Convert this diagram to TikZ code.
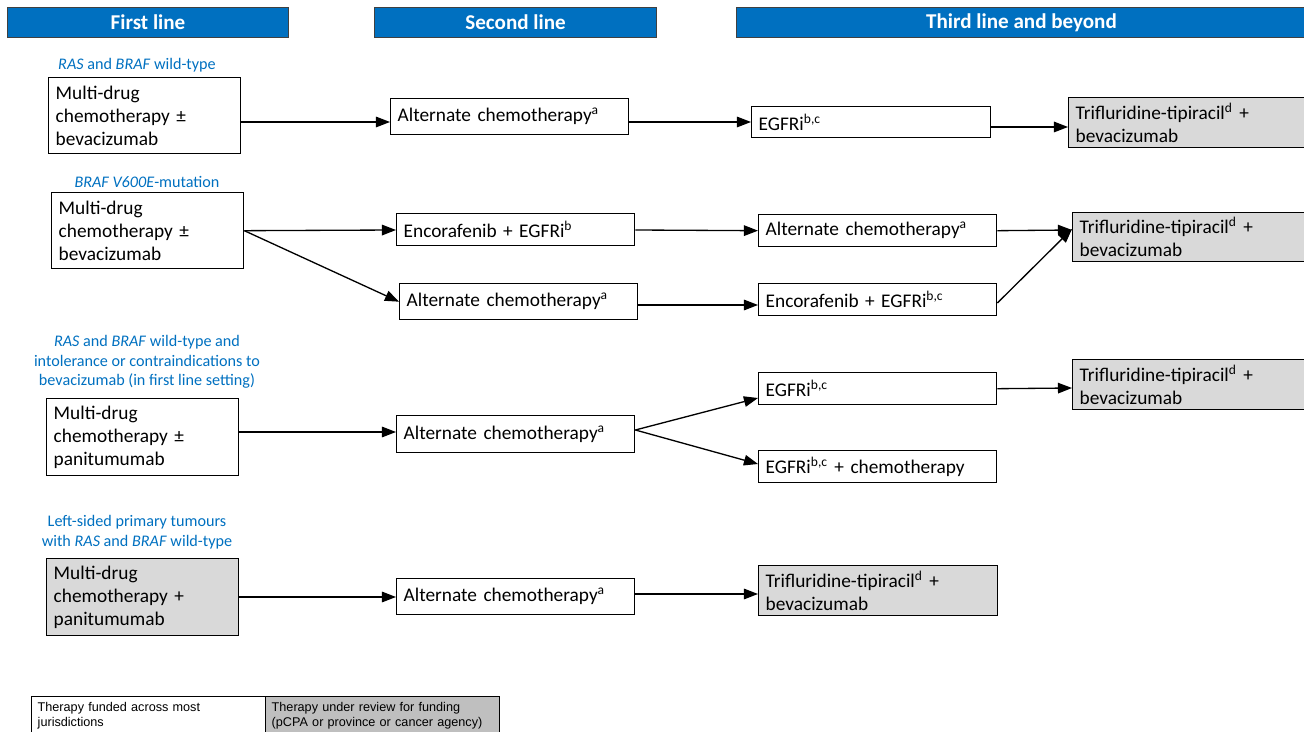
\documentclass[tikz,border=0pt]{standalone}
\usepackage{fontspec}
\setmainfont{Carlito}
\newfontfamily\legendfont{Liberation Sans}
\usetikzlibrary{arrows.meta}
\definecolor{hdrblue}{RGB}{0,112,192}
\definecolor{popblue}{RGB}{0,112,192}
\definecolor{reviewgray}{RGB}{217,217,217}
\definecolor{legendgray}{RGB}{191,191,191}
\tikzset{
  header/.style={draw=black!75, line width=0.6pt, fill=hdrblue, text=white, anchor=north west,
    minimum height=0.6cm, inner sep=0pt, font=\bfseries\fontsize{12}{14}\selectfont},
  tbox/.style={draw=black, line width=0.8pt, fill=white, anchor=north west, align=left,
    inner xsep=0.14cm, inner ysep=0pt, font=\fontsize{11}{13.2}\selectfont},
  review/.style={tbox, fill=reviewgray},
  popn/.style={text=popblue, align=center, font=\fontsize{9.2}{11.1}\selectfont},
  flow/.style={-{Triangle[length=8pt,width=6pt]}, line width=0.75pt},
  legbox/.style={draw=black, line width=0.8pt, anchor=north west, align=left, inner xsep=0.12cm,
    inner ysep=0pt, minimum width=4.68cm, text width=4.44cm, minimum height=0.76cm,
    font=\legendfont\fontsize{7.2}{8.5}\selectfont}
}
\begin{document}
\begin{tikzpicture}[x=0.02cm, y=-0.02cm]
\useasboundingbox (0,0) rectangle (1304,732);
\foreach \x/\w/\t/\n in {7/5.62/First line/h1, 374/5.64/Second line/h2, 736/11.4/Third line and beyond/h3}{
  \node[header, minimum width=\w cm] (\n) at (\x,7) {\t};
}
\node[popn] (p1) at (137,65) {\textit{RAS} and \textit{BRAF} wild-type};
\node[tbox, minimum width=3.84cm, text width=3.56cm, minimum height=1.52cm] (a1) at (48,77) {Multi-drug\\chemotherapy ±\\bevacizumab};
\node[tbox, minimum width=4.76cm, text width=4.48cm, minimum height=0.72cm] (a2) at (390,98) {Alternate chemotherapy\textsuperscript{a}};
\node[tbox, minimum width=4.78cm, text width=4.5cm, minimum height=0.62cm] (a3) at (751,106) {EGFRi\textsuperscript{b,c}};
\node[review, minimum width=4.8cm, text width=4.52cm, minimum height=1.0cm] (a4) at (1068,97) {Trifluridine-tipiracil\textsuperscript{d} +\\bevacizumab};
\draw[flow] (a1.east |- 0,122) -- (a2.west |- 0,122);
\draw[flow] (a2.east |- 0,122) -- (a3.west |- 0,122);
\draw[flow] (a3.east |- 0,127) -- (a4.west |- 0,127);

\node[popn] (p2) at (147,182) {\textit{BRAF V600E}-mutation};
\node[tbox, minimum width=3.84cm, text width=3.56cm, minimum height=1.52cm] (b1) at (51,192) {Multi-drug\\chemotherapy ±\\bevacizumab};
\node[tbox, minimum width=4.76cm, text width=4.48cm, minimum height=0.64cm] (b2) at (396,213) {Encorafenib + EGFRi\textsuperscript{b}};
\node[tbox, minimum width=4.76cm, text width=4.48cm, minimum height=0.72cm] (b3) at (399,283) {Alternate chemotherapy\textsuperscript{a}};
\node[tbox, minimum width=4.76cm, text width=4.48cm, minimum height=0.64cm] (b4) at (758,214) {Alternate chemotherapy\textsuperscript{a}};
\node[tbox, minimum width=4.76cm, text width=4.48cm, minimum height=0.64cm] (b5) at (758,283) {Encorafenib + EGFRi\textsuperscript{b,c}};
\node[review, minimum width=4.72cm, text width=4.44cm, minimum height=0.98cm] (b6) at (1072,212) {Trifluridine-tipiracil\textsuperscript{d} +\\bevacizumab};
\draw[flow] (b1.east) -- (b2.west |- 0,230);
\draw[flow] (b1.east) -- (b3.west);
\draw[flow] (b2.east |- 0,230) -- (b4.west);
\draw[flow] (b3.east |- 0,305) -- (b5.west |- 0,305);
\draw[flow] (b4.east) -- (b6.west |- 0,230);
\draw[flow] (b5.east |- 0,303) -- (b6.west |- 0,229);

\node[popn] (p3) at (147,362) {\textit{RAS} and \textit{BRAF} wild-type and\\intolerance or contraindications to\\bevacizumab (in first line setting)};
\node[tbox, minimum width=3.84cm, text width=3.56cm, minimum height=1.54cm] (c1) at (46,398) {Multi-drug\\chemotherapy ±\\panitumumab};
\node[tbox, minimum width=4.76cm, text width=4.48cm, minimum height=0.74cm] (c2) at (396,415) {Alternate chemotherapy\textsuperscript{a}};
\node[tbox, minimum width=4.76cm, text width=4.48cm, minimum height=0.64cm] (c3) at (758,372) {EGFRi\textsuperscript{b,c}};
\node[tbox, minimum width=4.76cm, text width=4.48cm, minimum height=0.64cm] (c4) at (758,450) {EGFRi\textsuperscript{b,c} + chemotherapy};
\node[review, minimum width=4.72cm, text width=4.44cm, minimum height=1.0cm] (c5) at (1072,359) {Trifluridine-tipiracil\textsuperscript{d} +\\bevacizumab};
\draw[flow] (c1.east |- 0,432) -- (c2.west |- 0,432);
\draw[flow] (c2.east |- 0,430) -- (c3.west |- 0,398);
\draw[flow] (c2.east |- 0,430) -- (c4.west |- 0,464);
\draw[flow] (c3.east) -- (c5.west |- 0,388);

\node[popn] (p4) at (137,532) {Left-sided primary tumours\\with \textit{RAS} and \textit{BRAF} wild-type};
\node[review, minimum width=3.84cm, text width=3.56cm, minimum height=1.54cm] (d1) at (46,558) {Multi-drug\\chemotherapy +\\panitumumab};
\node[tbox, minimum width=4.76cm, text width=4.48cm, minimum height=0.72cm] (d2) at (396,578) {Alternate chemotherapy\textsuperscript{a}};
\node[review, minimum width=4.78cm, text width=4.5cm, minimum height=1.0cm] (d3) at (758,565) {Trifluridine-tipiracil\textsuperscript{d} +\\bevacizumab};
\draw[flow] (d1.east |- 0,597) -- (d2.west |- 0,597);
\draw[flow] (d2.east |- 0,594) -- (d3.west |- 0,594);

\node[legbox] (l1) at (31,696) {Therapy funded across most\\jurisdictions};
\node[legbox, fill=legendgray] (l2) at (265,696) {Therapy under review for funding\\(pCPA or province or cancer agency)};
\end{tikzpicture}
\end{document}
